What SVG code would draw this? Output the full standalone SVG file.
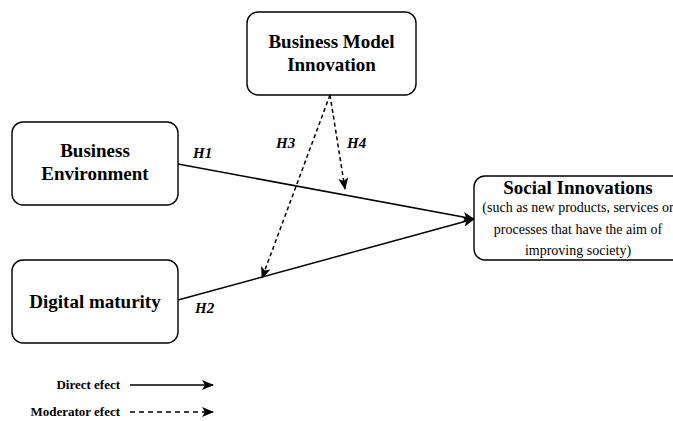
<svg xmlns="http://www.w3.org/2000/svg" width="673" height="421" viewBox="0 0 673 421">
  <style>
    .box { fill: #ffffff; stroke: #000000; stroke-width: 1.4; }
    .title { font-family: "Liberation Serif", "Times New Roman", serif; font-weight: bold; font-size: 19px; fill: #000000; text-anchor: middle; }
    .sub { font-family: "Liberation Serif", "Times New Roman", serif; font-size: 14px; fill: #000000; text-anchor: middle; }
    .hyp { font-family: "Liberation Serif", "Times New Roman", serif; font-weight: bold; font-style: italic; font-size: 15px; fill: #000000; }
    .legend { font-family: "Liberation Serif", "Times New Roman", serif; font-weight: bold; font-size: 13px; fill: #000000; text-anchor: end; }
    .direct { fill: none; stroke: #000000; stroke-width: 1.5; marker-end: url(#arrow); }
    .moderator { fill: none; stroke: #000000; stroke-width: 1.5; stroke-dasharray: 4 3; marker-end: url(#arrow); }
  </style>
  <defs>
    <marker id="arrow" viewBox="0 0 12 10" refX="11" refY="5" markerWidth="12" markerHeight="10" markerUnits="userSpaceOnUse" orient="auto">
      <path d="M0,0 L12,5 L0,10 L3,5 Z" fill="#000000"/>
    </marker>
  </defs>
  <rect width="673" height="421" fill="#ffffff"/>

  <!-- connectors -->
  <g id="connectors">
    <line class="direct" x1="178" y1="164" x2="474" y2="219"/>
    <line class="direct" x1="178" y1="300" x2="474" y2="219"/>
    <line class="moderator" x1="330" y1="95" x2="262" y2="278"/>
    <line class="moderator" x1="330" y1="95" x2="345" y2="189"/>
    <text class="hyp" x="193" y="158">H1</text>
    <text class="hyp" x="195" y="313">H2</text>
    <text class="hyp" x="276" y="148">H3</text>
    <text class="hyp" x="347" y="148">H4</text>
  </g>

  <!-- nodes -->
  <g id="business-model-innovation">
    <rect class="box" x="247" y="12" width="169" height="83" rx="11"/>
    <text class="title" x="331.5" y="48">Business Model</text>
    <text class="title" x="331.5" y="71">Innovation</text>
  </g>
  <g id="business-environment">
    <rect class="box" x="12" y="122" width="166" height="83" rx="11"/>
    <text class="title" x="95" y="157">Business</text>
    <text class="title" x="95" y="180">Environment</text>
  </g>
  <g id="digital-maturity">
    <rect class="box" x="12" y="260" width="166" height="83" rx="11"/>
    <text class="title" x="95" y="308">Digital maturity</text>
  </g>
  <g id="social-innovations">
    <rect class="box" x="474" y="176" width="212" height="84" rx="11"/>
    <text class="title" x="578" y="194">Social Innovations</text>
    <text class="sub" x="578" y="212">(such as new products, services or</text>
    <text class="sub" x="578" y="234">processes that have the aim of</text>
    <text class="sub" x="578" y="255">improving society)</text>
  </g>

  <!-- legend -->
  <g id="legend">
    <text class="legend" x="120" y="389">Direct efect</text>
    <line class="direct" x1="130" y1="385" x2="213" y2="385"/>
    <text class="legend" x="120" y="416">Moderator efect</text>
    <line class="moderator" x1="130" y1="412" x2="213" y2="412" style="stroke-dasharray: 5 4"/>
  </g>
</svg>
